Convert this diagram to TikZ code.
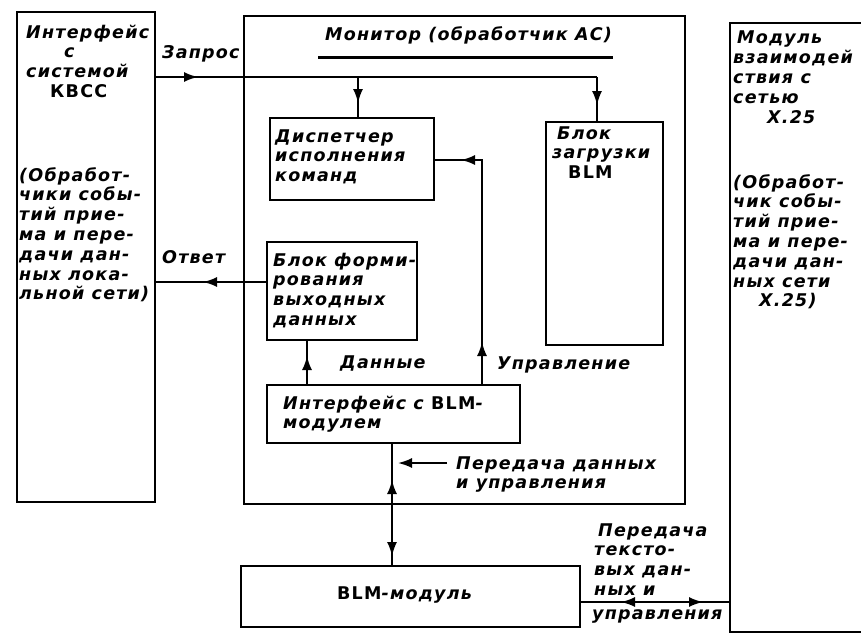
\documentclass[tikz,border=0pt]{standalone}
\usepackage{fontspec}
\setmainfont{DejaVu Sans}[LetterSpace=7]
\usetikzlibrary{arrows.meta,decorations.markings}
\newcommand{\tipF}{\arrow{Latex[length=14pt,width=10pt]}}
\newcommand{\tipB}{\arrowreversed{Latex[length=14pt,width=10pt]}}
\newcommand{\lns}[1]{\begin{tabular}[t]{@{}l@{}}#1\end{tabular}}
\tikzset{
  box/.style={draw, line width=2pt, inner sep=0pt},
  conn/.style={line width=1.8pt},
  lbl/.style={inner sep=0pt, anchor=base west, font=\fontsize{17.5}{19.8}\selectfont\bfseries\itshape},
}
\begin{document}
\begin{tikzpicture}[x=1pt,y=-1pt]
\useasboundingbox (0,0) rectangle (861,634);
\clip (0,0) rectangle (861,634);
% boxes
\node[box, minimum width=138pt, minimum height=490pt] (kvss) at (86,257) {};
\node[box, minimum width=441pt, minimum height=488pt] (mon) at (464.5,260) {};
\node[box, minimum width=164pt, minimum height=82pt] (disp) at (352,159) {};
\node[box, minimum width=117pt, minimum height=223pt] (load) at (604.5,233.5) {};
\node[box, minimum width=150pt, minimum height=98pt] (form) at (342,291) {};
\node[box, minimum width=253pt, minimum height=58pt] (ifblm) at (393.5,414) {};
\node[box, minimum width=339pt, minimum height=61pt] (blm) at (410.5,596.5) {};
\node[box, minimum width=170pt, minimum height=609pt] (x25) at (815,327.5) {};
% title
\node[lbl] (title) at (325,41) {Монитор (обработчик АС)};
\coordinate (ul1) at (318,58);
\coordinate (ul2) at (613,58);
\draw[line width=3pt] (ul1) -- (ul2);
% texts in boxes
\node[lbl] (tk1) at (26,38) {\lns{Интерфейс\\\hspace*{38pt}с\\системой\\\hspace*{24pt}{\upshape КВСС}}};
\node[lbl] (tk2) at (19,181) {\lns{(Обработ-\\чики собы-\\тий прие-\\ма и пере-\\дачи дан-\\ных лока-\\льной сети)}};
\node[lbl] (tx1) at (733,44) {\lns{\hspace*{4pt}Модуль\\взаимодей\\ствия с\\сетью\\\hspace*{34pt}X.25}};
\node[lbl] (tx2) at (733,188) {\lns{(Обработ-\\чик собы-\\тий прие-\\ма и пере-\\дачи дан-\\ных сети\\\hspace*{26pt}X.25)}};
\node[lbl] (td) at (275,142) {\lns{Диспетчер\\исполнения\\команд}};
\node[lbl] (tl) at (552,139) {\lns{\hspace*{5pt}Блок\\загрузки\\\hspace*{16pt}{\upshape BLM}}};
\node[lbl] (tf) at (273,266) {\lns{Блок форми-\\рования\\выходных\\данных}};
\node[lbl] (ti) at (283,409) {\lns{Интерфейс с {\upshape BLM}-\\модулем}};
\node[lbl] (tb) at (337,599) {{\upshape BLM}-модуль};
% connector labels
\node[lbl] (lzap) at (162,59) {Запрос};
\node[lbl] (lotv) at (162,263) {Ответ};
\node[lbl] (ldat) at (340,368) {Данные};
\node[lbl] (lupr) at (497,369) {Управление};
\node[lbl] (lper) at (456,469) {\lns{Передача данных\\и управления}};
\node[lbl] (lper2) at (594,536) {\lns{\hspace*{4pt}Передача\\тексто-\\вых дан-\\ных и}};
\node[lbl] (lupr2) at (592,619) {управления};
% connectors
\coordinate (zq) at (597,77);
\coordinate (zb) at (358,77);
\draw[conn, postaction={decorate}, decoration={markings, mark=at position 42pt with {\tipF}}]
  (kvss.east |- zq) -- (zb);
\draw[conn] (zb) -- (zq);
\draw[conn, postaction={decorate}, decoration={markings, mark=at position 28pt with {\tipF}}]
  (zq) -- (zq |- load.north);
\draw[conn, postaction={decorate}, decoration={markings, mark=at position 26pt with {\tipF}}]
  (zb) -- (zb |- disp.north);
\coordinate (otv) at (267,282);
\draw[conn, postaction={decorate}, decoration={markings, mark=at position 64pt with {\tipF}}]
  (otv) -- (otv -| kvss.east);
\coordinate (uc) at (482,160);
\draw[conn, postaction={decorate}, decoration={markings, mark=at position 42pt with {\tipF}, mark=at position 245pt with {\tipF}}]
  (uc |- ifblm.north) -- (uc) -- (uc -| disp.east);
\coordinate (dc) at (307,385);
\draw[conn, postaction={decorate}, decoration={markings, mark=at position 28pt with {\tipF}}]
  (dc |- ifblm.north) -- (dc |- form.south);
\coordinate (vc) at (392,500);
\draw[conn, postaction={decorate}, decoration={markings, mark=at position 36pt with {\tipB}, mark=at position 112pt with {\tipF}}]
  (vc |- ifblm.south) -- (vc |- blm.north);
\coordinate (pa1) at (447,463);
\coordinate (pa2) at (398,463);
\draw[conn, -{Latex[length=14pt,width=10pt]}] (pa1) -- (pa2);
\coordinate (hc) at (600,602);
\draw[conn, postaction={decorate}, decoration={markings, mark=at position 40pt with {\tipB}, mark=at position 122pt with {\tipF}}]
  (hc -| blm.east) -- (hc -| x25.west);
\end{tikzpicture}
\end{document}
